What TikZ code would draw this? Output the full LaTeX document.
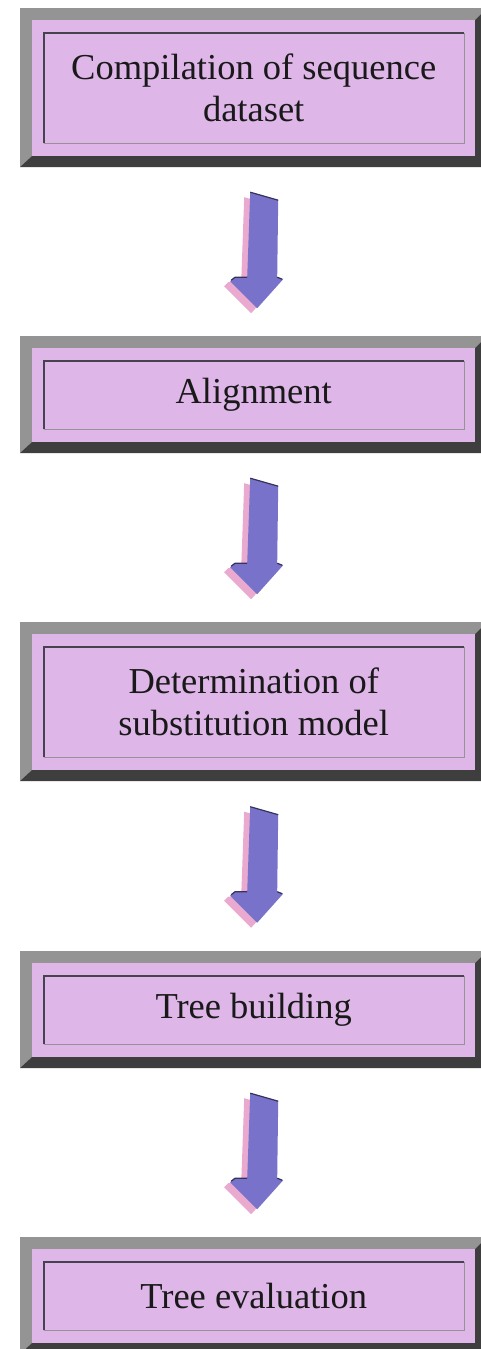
\documentclass[tikz,border=0pt]{standalone}
\usepackage{fontspec}
\setmainfont{Liberation Serif}
\usetikzlibrary{calc}
\definecolor{facec}{RGB}{222,182,232}
\definecolor{bevlight}{RGB}{148,148,148}
\definecolor{bevdark}{RGB}{62,62,62}
\definecolor{arrowblue}{RGB}{120,114,202}
\definecolor{arrowpink}{RGB}{234,170,208}
\definecolor{grooveD}{RGB}{70,66,80}
\definecolor{grooveL}{RGB}{150,146,150}
\tikzset{
  face/.style={fill=facec, inner sep=0pt, align=center, anchor=north west,
    font=\fontsize{36.5}{42}\selectfont, text=black!90},
  groovedark/.style={draw=grooveD, line width=1.6pt},
  groovelight/.style={draw=grooveL, line width=1.6pt},
  arrowbody/.style={fill=arrowblue},
  arrowshade/.style={fill=arrowpink},
  arrowedge/.style={draw=arrowblue!45!black, line width=1.2pt},
}
\newcommand{\bevelbox}[4]{% #1 name, #2 top, #3 height, #4 text
  \fill[bevlight] (20,#2) -- (487,#2) -- (475,#2+12) -- (32,#2+12) -- (32,#2+#3-11) -- (20,#2+#3) -- cycle;
  \fill[bevdark] (20,#2+#3) -- (32,#2+#3-11) -- (475,#2+#3-11) -- (475,#2+12) -- (487,#2) -- (487,#2+#3) -- cycle;
  \node[face, minimum width=443pt, minimum height={(#3-23)*1pt}] (#1) at (32,#2+12) {#4};
  \coordinate (#1tl) at ($(#1.north west)+(12,13)$);
  \coordinate (#1tr) at ($(#1.north east)+(-11,13)$);
  \coordinate (#1bl) at ($(#1.south west)+(12,-13)$);
  \coordinate (#1br) at ($(#1.south east)+(-11,-13)$);
  \draw[groovelight] (#1tr) -- (#1br) -- (#1bl);
  \draw[groovedark] (#1bl) -- (#1tl) -- (#1tr);
}
\newcommand{\flowarrow}[3]{% #1 name, #2 from node, #3 to node
  \coordinate (#1) at ($(#2.south)!0.5!(#3.north)+(3.5,-2)$);
  \begin{scope}[shift={(#1)}]
    \fill[arrowshade, shift={(-6,5)}] (-7,-58) -- (21,-50) -- (20,27) -- (26,29) -- (0,58) -- (-27,31) -- (-23,27) -- (-10,27) -- cycle;
    \fill[arrowbody] (-7,-58) -- (21,-50) -- (20,27) -- (26,29) -- (0,58) -- (-27,31) -- (-23,27) -- (-10,27) -- cycle;
    \draw[arrowedge] (-7,-58) -- (21,-50);
    \draw[arrowedge] (-26,30) -- (-22,27) -- (-10,27);
    \draw[arrowedge] (20,27) -- (25,29);
  \end{scope}
}
\begin{document}
\begin{tikzpicture}[x=1pt, y=-1pt]
  \useasboundingbox (0,0) rectangle (481,1349);
  \clip (0,0) rectangle (481,1349);
  \fill[white] (0,0) rectangle (481,1349);
  \bevelbox{b1}{8}{159}{Compilation of sequence\\dataset}
  \bevelbox{b2}{336}{117}{Alignment}
  \bevelbox{b3}{622}{159}{Determination of\\substitution model}
  \bevelbox{b4}{951}{117}{Tree building}
  \bevelbox{b5}{1237}{117}{Tree evaluation}
  \flowarrow{a1}{b1}{b2}
  \flowarrow{a2}{b2}{b3}
  \flowarrow{a3}{b3}{b4}
  \flowarrow{a4}{b4}{b5}
\end{tikzpicture}
\end{document}
